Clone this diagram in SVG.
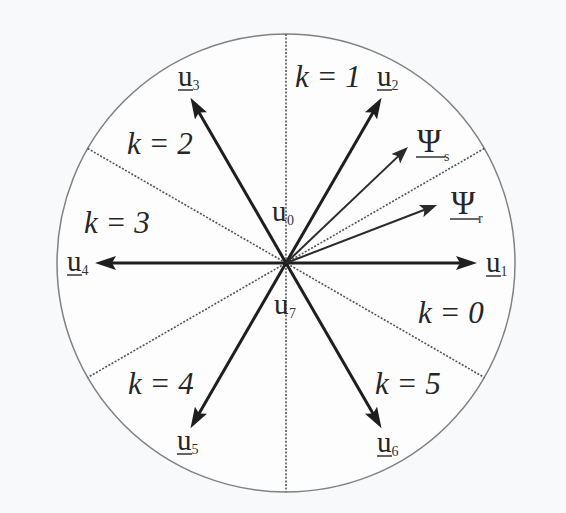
<svg xmlns="http://www.w3.org/2000/svg" width="566" height="513" viewBox="0 0 566 513">
<style>
.bg{fill:#f8f9fa}
.circ{fill:#fdfdfd;stroke:#808080;stroke-width:1.5}
.dot{stroke:#555;stroke-width:1.6;stroke-dasharray:2 1.6;fill:none}
.vec{stroke:#1e1e1e;stroke-width:3;fill:none;marker-end:url(#ah)}
.psi{stroke:#2a2a2a;stroke-width:2;fill:none;marker-end:url(#ahs)}
.k{font-family:"Liberation Serif","Times New Roman",serif;font-style:italic;font-size:31px;fill:#262626}
.u{font-family:"Liberation Serif","Times New Roman",serif;font-size:29px;fill:#262626}
.p{font-family:"Liberation Serif","Times New Roman",serif;font-size:33px;fill:#262626}
.s{font-family:"Liberation Serif","Times New Roman",serif;font-size:14px;fill:#333}
.ul{stroke:#333;stroke-width:1.5}
</style>
<defs>
<marker id="ah" markerUnits="userSpaceOnUse" markerWidth="22" markerHeight="14" refX="10" refY="7" orient="auto" viewBox="0 0 22 14">
<path d="M0,0 L21,7 L0,14 L4,7 z" fill="#1e1e1e"/>
</marker>
<marker id="ahs" markerUnits="userSpaceOnUse" markerWidth="18" markerHeight="13" refX="8.5" refY="6.5" orient="auto" viewBox="0 0 18 13">
<path d="M0,0 L17,6.5 L0,13 L3.5,6.5 z" fill="#2a2a2a"/>
</marker>
</defs>
<rect class="bg" x="0" y="0" width="566" height="513"/>
<g id="circle">
<circle class="circ" cx="286" cy="263" r="229"/>
</g>
<g id="sector-lines">
<line class="dot" x1="286" y1="34" x2="286" y2="492"/>
<line class="dot" x1="484.3" y1="148.5" x2="87.7" y2="377.5"/>
<line class="dot" x1="87.7" y1="148.5" x2="484.3" y2="377.5"/>
</g>
<g id="connectors">
<line class="vec" x1="286" y1="263" x2="466" y2="263"/>
<line class="vec" x1="286" y1="263" x2="376" y2="107.2"/>
<line class="vec" x1="286" y1="263" x2="196" y2="107.2"/>
<line class="vec" x1="286" y1="263" x2="106" y2="263"/>
<line class="vec" x1="286" y1="263" x2="196" y2="418.8"/>
<line class="vec" x1="286" y1="263" x2="376" y2="418.8"/>
<line class="psi" x1="286" y1="263" x2="401.8" y2="152.9"/>
<line class="psi" x1="286" y1="263" x2="429.1" y2="208"/>
</g>
<g id="sectors">
<text class="k" x="295" y="87">k = 1</text>
<text class="k" x="127" y="154">k = 2</text>
<text class="k" x="84" y="233">k = 3</text>
<text class="k" x="418" y="323">k = 0</text>
<text class="k" x="128" y="394">k = 4</text>
<text class="k" x="375" y="394">k = 5</text>
</g>
<g id="u1"><text class="u" x="486" y="272">u</text><text class="s" x="500.5" y="276">1</text><line class="ul" x1="486" y1="276" x2="501" y2="276"/></g>
<g id="u2"><text class="u" x="377" y="86">u</text><text class="s" x="391.5" y="90">2</text><line class="ul" x1="377" y1="90" x2="392" y2="90"/></g>
<g id="u3"><text class="u" x="178" y="86">u</text><text class="s" x="192.5" y="90">3</text><line class="ul" x1="178" y1="90" x2="193" y2="90"/></g>
<g id="u4"><text class="u" x="67" y="271">u</text><text class="s" x="81.5" y="275">4</text><line class="ul" x1="67" y1="275" x2="82" y2="275"/></g>
<g id="u5"><text class="u" x="177" y="450">u</text><text class="s" x="191.5" y="454">5</text><line class="ul" x1="177" y1="454" x2="192" y2="454"/></g>
<g id="u6"><text class="u" x="377" y="452">u</text><text class="s" x="391.5" y="456">6</text><line class="ul" x1="377" y1="456" x2="392" y2="456"/></g>
<g id="u0"><text class="u" x="272" y="221">u</text><text class="s" x="287" y="225">0</text></g>
<g id="u7"><text class="u" x="274" y="314">u</text><text class="s" x="289" y="318">7</text></g>
<g id="psi-s"><text class="p" x="417" y="152">Ψ</text><text class="s" x="444" y="161">s</text><line class="ul" x1="416" y1="157" x2="445" y2="157"/></g>
<g id="psi-r"><text class="p" x="451" y="214">Ψ</text><text class="s" x="478" y="223">r</text><line class="ul" x1="450" y1="219" x2="479" y2="219"/></g>
</svg>
